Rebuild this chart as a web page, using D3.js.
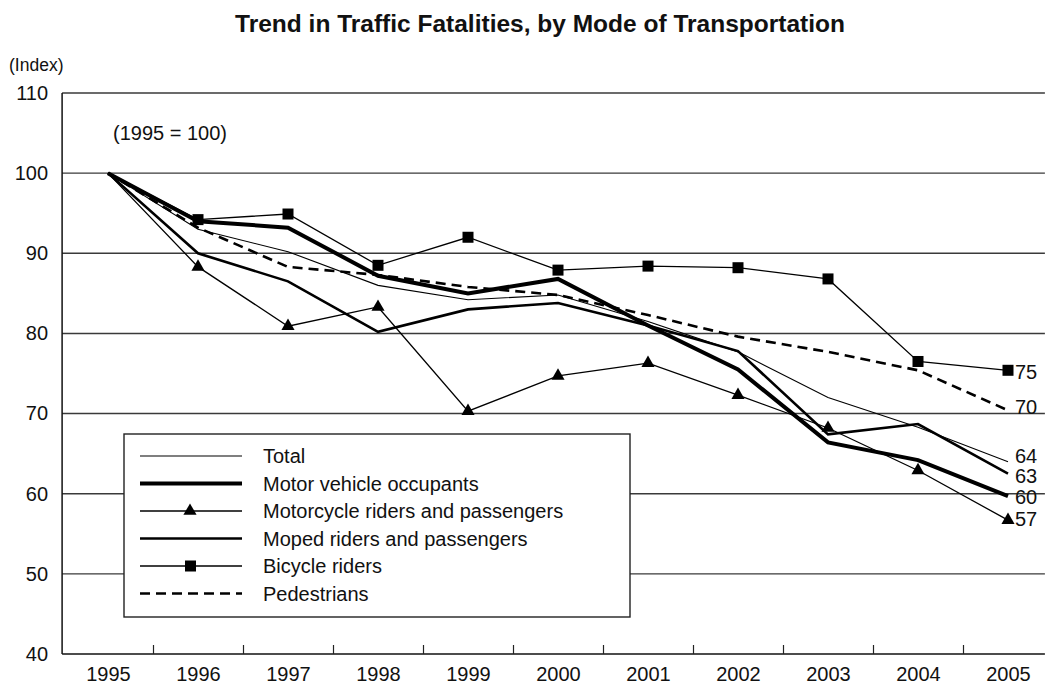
<!DOCTYPE html>
<html><head><meta charset="utf-8">
<script src="https://cdn.jsdelivr.net/npm/d3@7/dist/d3.min.js"></script>
<style>body{margin:0;background:#fff}text{font-family:"Liberation Sans",Arial,Helvetica,sans-serif;fill:#111}</style>
</head><body><svg id="c" width="1052" height="684"></svg>
<script>
const years = [1995,1996,1997,1998,1999,2000,2001,2002,2003,2004,2005];
const total       = [100,93.0,90.2,86.0,84.2,84.8,81.5,77.7,72.0,68.3,64.0];
const motorVehicle= [100,94.0,93.2,87.2,85.0,86.8,81.0,75.5,66.4,64.2,59.7];
const motorcycle  = [100,88.3,80.9,83.3,70.3,74.7,76.3,72.3,68.2,62.9,56.7];
const moped       = [100,90.0,86.5,80.2,83.0,83.8,81.0,77.8,67.4,68.7,62.5];
const bicycle     = [100,94.2,94.9,88.5,92.0,87.9,88.4,88.2,86.8,76.5,75.4];
const pedestrians = [100,93.2,88.3,87.3,85.8,84.8,82.3,79.6,77.7,75.4,70.4];
const seriesNames = ["Total","Motor vehicle occupants","Motorcycle riders and passengers","Moped riders and passengers","Bicycle riders","Pedestrians"];
const endLabels = ["64","60","57","63","75","70"];
const yTicks = [40,50,60,70,80,90,100,110];

const seriesData = [total,motorVehicle,motorcycle,moped,bicycle,pedestrians];
const styles = [
  {w:1.1, dash:null, marker:null, nudge:-6},
  {w:4, dash:null, marker:null, nudge:1},
  {w:1.3, dash:null, marker:"tri", nudge:-1},
  {w:2.6, dash:null, marker:null, nudge:2},
  {w:1.3, dash:null, marker:"sq", nudge:2},
  {w:2.6, dash:"10,6", marker:null, nudge:-3}
];

const svg = d3.select("#c");
const x = d3.scaleLinear().domain([1995,2005]).range([108,1008]);
const y = d3.scaleLinear().domain([40,110]).range([654,93]);
const xL = x(1994.49), xR = x(2005.41);

svg.append("text").attr("x",540).attr("y",32).attr("text-anchor","middle")
  .style("font-size","24.5px").style("font-weight","bold").text("Trend in Traffic Fatalities, by Mode of Transportation");
svg.append("text").attr("x",9).attr("y",71).style("font-size","17.5px").text("(Index)");
svg.append("text").attr("x",113).attr("y",140).style("font-size","20px").text("(1995 = 100)");

// gridlines
svg.append("g").selectAll("line").data(yTicks.filter(d=>d>40)).join("line")
  .attr("x1",xL).attr("x2",xR).attr("y1",d=>y(d)).attr("y2",d=>y(d))
  .attr("stroke","#3a3a3a").attr("stroke-width",1.4);

// y axis
const yAxis = svg.append("g").attr("transform",`translate(${xL},0)`)
  .call(d3.axisLeft(y).tickValues(yTicks).tickSize(0).tickPadding(14));
yAxis.select(".domain").remove();
yAxis.selectAll("text").style("font-size","20px").attr("fill","#111").style("font-family","'Liberation Sans',Arial,sans-serif");
svg.append("line").attr("x1",xL).attr("x2",xL).attr("y1",y(110)).attr("y2",y(40)).attr("stroke","#111").attr("stroke-width",1.5);
svg.append("line").attr("x1",xL).attr("x2",xR).attr("y1",y(40)).attr("y2",y(40)).attr("stroke","#111").attr("stroke-width",1.5);

// x axis ticks (inward, at boundaries)
const bounds = years.slice(0,-1).map(d=>d+0.5);
svg.append("g").attr("transform",`translate(0,${y(40)})`)
  .call(d3.axisBottom(x).tickValues(bounds).tickSize(-9).tickFormat(""))
  .call(g=>{g.select(".domain").remove(); g.selectAll("line").attr("stroke","#222").attr("stroke-width",1.2);});
const xAxis = svg.append("g").attr("transform",`translate(0,${y(40)})`)
  .call(d3.axisBottom(x).tickValues(years).tickFormat(d3.format("d")).tickSize(0).tickPadding(13));
xAxis.select(".domain").remove();
xAxis.selectAll("text").style("font-size","20px").attr("fill","#111").style("font-family","'Liberation Sans',Arial,sans-serif");

const line = d3.line().x((d,i)=>x(years[i])).y(d=>y(d));
const triPath = d3.symbol().type(d3.symbolTriangle).size(75);

seriesData.forEach((vals,k)=>{
  const s = styles[k];
  svg.append("path").datum(vals).attr("d",line).attr("fill","none")
    .attr("stroke","#000").attr("stroke-width",s.w).attr("stroke-linejoin","miter")
    .attr("stroke-dasharray",s.dash);
  if(s.marker==="sq"){
    svg.append("g").selectAll("rect").data(vals.slice(1)).join("rect")
      .attr("x",(d,i)=>x(years[i+1])-5.5).attr("y",d=>y(d)-5.5).attr("width",11).attr("height",11).attr("fill","#000");
  } else if(s.marker==="tri"){
    svg.append("g").selectAll("path").data(vals.slice(1)).join("path")
      .attr("d",triPath).attr("transform",(d,i)=>`translate(${x(years[i+1])},${y(d)})`).attr("fill","#000");
  }
  svg.append("text").attr("x",x(2005)+7).attr("y",y(vals[vals.length-1])+s.nudge).attr("dy","0.35em")
    .style("font-size","20px").text(endLabels[k]);
});

// legend
const lg = svg.append("g");
lg.append("rect").attr("x",124).attr("y",434).attr("width",506).attr("height",183)
  .attr("fill","#fff").attr("stroke","#222").attr("stroke-width",1.4);
seriesNames.forEach((n,k)=>{
  const s = styles[k], yy = 456 + k*27.5;
  lg.append("line").attr("x1",140).attr("x2",242).attr("y1",yy).attr("y2",yy)
    .attr("stroke","#000").attr("stroke-width",s.w).attr("stroke-dasharray",s.dash);
  if(s.marker==="sq") lg.append("rect").attr("x",185).attr("y",yy-5.5).attr("width",11).attr("height",11);
  if(s.marker==="tri") lg.append("path").attr("d",triPath).attr("transform",`translate(190,${yy})`);
  lg.append("text").attr("x",263).attr("y",yy).attr("dy","0.35em").style("font-size","20px").text(n);
});
</script></body></html>
